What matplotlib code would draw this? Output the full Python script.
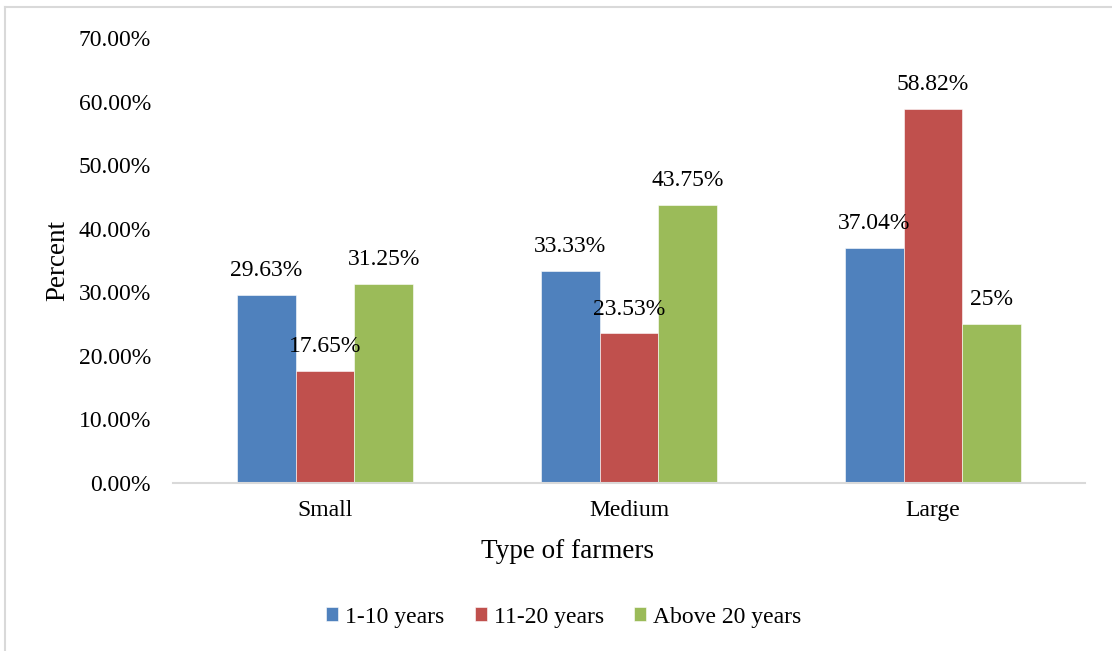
import numpy as np
import matplotlib.pyplot as plt
from matplotlib.lines import Line2D
from matplotlib.ticker import FuncFormatter

plt.rcParams['font.family'] = ['Liberation Serif', 'DejaVu Serif']

# farmer types and experience groups (values in percent)
farmer_types = ['Small', 'Medium', 'Large']
years_1_10 = [29.63, 33.33, 37.04]
years_11_20 = [17.65, 23.53, 58.82]
years_above_20 = [31.25, 43.75, 25]

series = [
    ('1-10 years', years_1_10, '#4F81BD'),
    ('11-20 years', years_11_20, '#C0504D'),
    ('Above 20 years', years_above_20, '#9BBB59'),
]

fig = plt.figure(figsize=(11.12, 6.51), dpi=100)
ax = fig.add_axes([0.1556, 0.258, 0.8201, 0.6836])

x = np.arange(len(farmer_types))
w = 0.193
for i, (name, vals, col) in enumerate(series):
    bars = ax.bar(x + (i - 1) * w, vals, w, color=col, label=name,
                  edgecolor='white', linewidth=0.4)
    ax.bar_label(bars, labels=[f'{v:g}%' for v in vals], padding=10, fontsize=17)

ax.set_xlim(-0.5, 2.5)
ax.set_ylim(0, 70)
ax.set_yticks(np.arange(0, 71, 10))
ax.yaxis.set_major_formatter(FuncFormatter(lambda v, p: f'{v:.2f}%'))
ax.set_xticks(x)
ax.set_xticklabels(farmer_types)
ax.tick_params(axis='y', length=0, pad=16, labelsize=17)
ax.tick_params(axis='x', length=0, pad=12, labelsize=17)

for s in ['top', 'right', 'left']:
    ax.spines[s].set_visible(False)
ax.spines['bottom'].set_color('#D9D9D9')
ax.spines['bottom'].set_linewidth(1.5)

ax.set_ylabel('Percent', fontsize=19.5, labelpad=6)
ax.set_xlabel('Type of farmers', fontsize=19.5, labelpad=14)
ax.xaxis.set_label_coords(0.433, -0.125)

ax.legend(loc='center', bbox_to_anchor=(0.507, 1 - 617 / 651), bbox_transform=fig.transFigure,
          ncol=3, frameon=False, fontsize=17, handlelength=0.5, handleheight=0.5,
          handletextpad=0.3, columnspacing=1.3)

# thin frame lines at top and left of the chart area
fig.add_artist(Line2D([5 / 1112, 1], [1 - 7 / 651, 1 - 7 / 651], transform=fig.transFigure,
                      color='#D9D9D9', linewidth=1.5))
fig.add_artist(Line2D([5 / 1112, 5 / 1112], [0, 1 - 7 / 651], transform=fig.transFigure,
                      color='#D9D9D9', linewidth=1.5))

fig.savefig('out.png', dpi=100)
